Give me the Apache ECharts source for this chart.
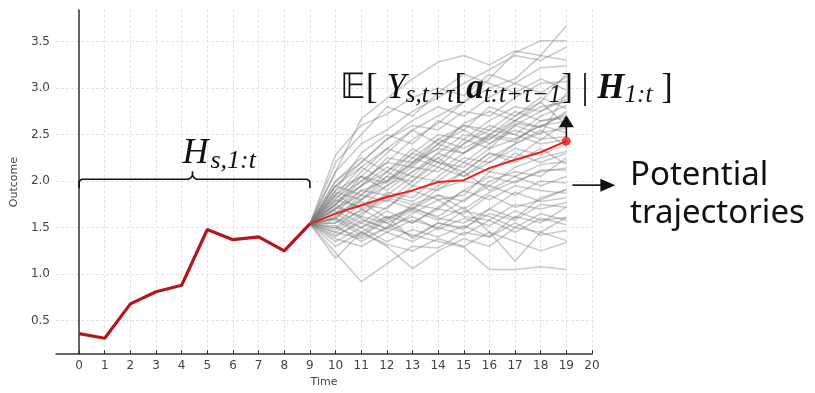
<!DOCTYPE html>
<html>
<head>
<meta charset="utf-8">
<script src="https://cdn.jsdelivr.net/npm/echarts@6/dist/echarts.min.js"></script>
<style>
  html, body { margin: 0; background: #fff; }
  #chart { width: 815px; height: 393px; }
</style>
</head>
<body>
<div id="chart"></div>
<script>
const xTicks = [0, 1, 2, 3, 4, 5, 6, 7, 8, 9, 10, 11, 12, 13, 14, 15, 16, 17, 18, 19, 20];
const yTicks = [0.5, 1.0, 1.5, 2.0, 2.5, 3.0, 3.5];

const historyTime = [0, 1, 2, 3, 4, 5, 6, 7, 8, 9];
const historyOutcome = [0.36, 0.31, 0.68, 0.81, 0.88, 1.48, 1.37, 1.40, 1.25, 1.54];

const forecastTime = [9, 10, 11, 12, 13, 14, 15, 16, 17, 18, 19];
const meanOutcome = [1.54, 1.65, 1.74, 1.83, 1.90, 1.99, 2.01, 2.14, 2.23, 2.31, 2.43];

// sampled potential trajectories, t = 9..19
const trajectories = [
  [1.54, 1.45, 1.38, 1.50, 1.42, 1.35, 1.29, 1.05, 1.05, 1.08, 1.05],
  [1.54, 1.23, 0.92, 1.11, 1.30, 1.28, 1.45, 1.40, 1.62, 1.55, 1.72],
  [1.54, 1.17, 1.45, 1.62, 1.38, 1.55, 1.48, 1.70, 1.60, 1.82, 1.91],
  [1.54, 1.60, 1.45, 1.30, 1.06, 1.25, 1.38, 1.30, 1.50, 1.45, 1.36],
  [1.54, 1.50, 1.70, 1.55, 1.68, 1.58, 1.72, 1.45, 1.14, 1.45, 1.61],
  [1.54, 1.85, 2.05, 2.30, 2.55, 2.70, 2.85, 3.00, 3.10, 3.35, 3.67],
  [1.54, 1.75, 2.00, 2.20, 2.45, 2.62, 2.85, 3.10, 3.38, 3.51, 3.51],
  [1.54, 2.10, 2.40, 2.55, 2.75, 2.90, 3.05, 3.20, 3.35, 3.30, 3.44],
  [1.54, 2.28, 2.60, 2.72, 2.90, 3.00, 2.92, 3.15, 3.05, 3.22, 3.24],
  [1.54, 1.95, 2.20, 2.45, 2.60, 2.55, 2.75, 2.70, 2.90, 3.05, 3.07],
  [1.54, 1.70, 1.95, 2.10, 2.30, 2.50, 2.45, 2.65, 2.80, 2.75, 2.92],
  [1.54, 1.65, 1.80, 2.05, 2.00, 2.25, 2.40, 2.55, 2.50, 2.70, 2.81],
  [1.54, 1.80, 1.72, 1.95, 2.15, 2.10, 2.30, 2.45, 2.62, 2.58, 2.73],
  [1.54, 1.60, 1.85, 1.78, 2.00, 2.20, 2.15, 2.35, 2.45, 2.60, 2.64],
  [1.54, 1.72, 1.62, 1.88, 1.82, 2.05, 2.25, 2.20, 2.40, 2.52, 2.57],
  [1.54, 1.55, 1.75, 1.70, 1.95, 1.90, 2.10, 2.30, 2.25, 2.45, 2.48],
  [1.54, 1.90, 2.05, 1.90, 2.10, 2.25, 2.05, 2.20, 2.35, 2.28, 2.40],
  [1.54, 1.48, 1.65, 1.80, 1.70, 1.92, 2.00, 1.95, 2.15, 2.25, 2.32],
  [1.54, 1.68, 1.55, 1.72, 1.90, 1.80, 1.85, 2.10, 2.05, 2.18, 2.21],
  [1.54, 1.40, 1.58, 1.50, 1.75, 1.85, 1.70, 1.88, 2.00, 2.10, 2.14],
  [1.54, 1.85, 1.70, 1.85, 1.78, 1.95, 2.10, 1.90, 2.05, 1.95, 2.05],
  [1.54, 1.62, 1.78, 1.60, 1.70, 1.62, 1.80, 1.95, 1.85, 2.00, 1.98],
  [1.54, 1.35, 1.50, 1.68, 1.55, 1.70, 1.65, 1.85, 1.72, 1.80, 1.91],
  [1.54, 1.58, 1.42, 1.60, 1.72, 1.60, 1.55, 1.70, 1.88, 1.78, 1.82],
  [1.54, 1.75, 1.60, 1.48, 1.65, 1.80, 1.62, 1.58, 1.75, 1.70, 1.77],
  [1.54, 1.45, 1.62, 1.55, 1.40, 1.55, 1.50, 1.65, 1.58, 1.75, 1.72],
  [1.54, 1.52, 1.35, 1.50, 1.62, 1.48, 1.60, 1.52, 1.68, 1.58, 1.61],
  [1.54, 1.38, 1.30, 1.45, 1.35, 1.50, 1.42, 1.58, 1.45, 1.60, 1.53],
  [1.54, 1.65, 1.50, 1.35, 1.48, 1.40, 1.52, 1.40, 1.55, 1.42, 1.47],
  [1.54, 1.30, 1.45, 1.32, 1.25, 1.38, 1.30, 1.45, 1.35, 1.25, 1.34],
  [1.54, 2.00, 2.25, 2.10, 2.35, 2.20, 2.45, 2.35, 2.60, 2.50, 2.95],
  [1.54, 1.82, 2.00, 2.20, 2.15, 2.40, 2.30, 2.50, 2.65, 2.80, 2.85],
  [1.54, 1.70, 1.90, 1.85, 2.05, 2.00, 2.20, 2.10, 2.30, 2.20, 2.30],
  [1.54, 1.55, 1.68, 1.82, 1.75, 1.70, 1.90, 2.05, 1.98, 2.12, 2.12],
  [1.54, 1.78, 1.95, 2.15, 2.05, 2.30, 2.20, 2.40, 2.55, 2.45, 2.62],
  [1.54, 1.60, 1.50, 1.62, 1.55, 1.72, 1.90, 1.80, 1.95, 1.90, 1.87],
  [1.54, 1.42, 1.55, 1.45, 1.58, 1.50, 1.68, 1.62, 1.50, 1.65, 1.58],
  [1.54, 1.95, 2.15, 2.35, 2.25, 2.45, 2.60, 2.50, 2.70, 2.85, 3.15],
  [1.54, 1.88, 1.80, 2.00, 2.20, 2.35, 2.30, 2.48, 2.42, 2.65, 2.68],
  [1.54, 1.50, 1.40, 1.58, 1.70, 1.85, 1.78, 2.00, 2.10, 2.05, 2.25],
  [1.54, 2.10, 2.67, 2.89, 3.10, 3.28, 3.35, 3.25, 3.40, 3.35, 3.30],
  [1.54, 2.20, 2.50, 2.80, 2.70, 2.95, 3.15, 3.05, 2.95, 3.10, 2.98],
  [1.54, 1.90, 2.30, 2.50, 2.40, 2.65, 2.55, 2.80, 2.70, 2.90, 2.78],
  [1.54, 1.80, 2.10, 2.35, 2.55, 2.40, 2.60, 2.55, 2.75, 2.65, 2.70],
  [1.54, 1.75, 1.95, 2.25, 2.20, 2.45, 2.35, 2.50, 2.45, 2.60, 2.52],
  [1.54, 1.65, 1.90, 2.00, 2.25, 2.15, 2.40, 2.60, 2.50, 2.40, 2.45],
  [1.54, 1.85, 2.15, 2.00, 2.20, 2.40, 2.55, 2.40, 2.60, 2.75, 2.88],
  [1.54, 1.70, 1.85, 2.10, 1.95, 2.15, 2.05, 2.25, 2.40, 2.55, 2.38],
  [1.54, 1.95, 1.85, 2.05, 2.30, 2.20, 2.10, 2.30, 2.20, 2.35, 2.18],
  [1.54, 1.60, 1.80, 1.95, 2.10, 2.30, 2.50, 2.45, 2.65, 2.58, 2.75],
  [1.54, 2.00, 2.20, 2.45, 2.65, 2.80, 2.70, 2.90, 3.05, 2.95, 3.12],
  [1.54, 1.75, 2.05, 1.98, 2.18, 2.35, 2.62, 2.75, 2.65, 2.85, 2.60]
];

const chart = echarts.init(document.getElementById('chart'));

const zip = (xs, ys) => xs.map((x, i) => [x, ys[i]]);

const trajectorySeries = trajectories.map((values) => ({
  type: 'line',
  data: zip(forecastTime, values),
  showSymbol: false,
  silent: true,
  z: 1,
  lineStyle: { color: 'rgba(120,120,120,0.4)', width: 1.5 },
}));

const tickFont = { fontFamily: 'DejaVu Sans', fontSize: 12, color: '#444' };

chart.setOption({
  animation: false,
  grid: { left: 56, right: 223, top: 10, bottom: 35 },
  xAxis: {
    type: 'value',
    min: -0.9,
    max: 20,
    name: 'Time',
    nameLocation: 'middle',
    nameGap: 21,
    nameTextStyle: { fontFamily: 'DejaVu Sans', fontSize: 11, color: '#444' },
    axisLine: { lineStyle: { color: '#333', width: 1.5 } },
    axisTick: { inside: true, length: 4, customValues: xTicks, lineStyle: { color: '#333' } },
    axisLabel: { customValues: xTicks, margin: 6, ...tickFont },
    splitLine: { show: true, lineStyle: { color: '#e2e2e2', type: [3, 2], width: 1 } },
  },
  yAxis: {
    type: 'value',
    min: 0.14,
    max: 3.84,
    name: 'Outcome',
    nameLocation: 'middle',
    nameGap: 31,
    nameTextStyle: { fontFamily: 'DejaVu Sans', fontSize: 11, color: '#444' },
    axisLine: { show: true, lineStyle: { color: '#333', width: 1.5 } },
    axisTick: { show: false, customValues: yTicks },
    axisLabel: { customValues: yTicks, margin: 6, formatter: (v) => v.toFixed(1), ...tickFont },
    splitLine: { show: true, lineStyle: { color: '#e2e2e2', type: [3, 2], width: 1 } },
  },
  series: [
    ...trajectorySeries,
    {
      type: 'line',
      data: zip(historyTime, historyOutcome),
      showSymbol: false,
      z: 3,
      lineStyle: { color: '#b3171c', width: 3.2 },
    },
    {
      type: 'line',
      data: zip(forecastTime, meanOutcome),
      showSymbol: false,
      z: 4,
      lineStyle: { color: '#e8211d', width: 2 },
    },
    {
      type: 'scatter',
      data: [[forecastTime[forecastTime.length - 1], meanOutcome[meanOutcome.length - 1]]],
      symbolSize: 9,
      z: 5,
      itemStyle: { color: '#f5141a' },
    },
  ],
});

// annotations anchored to the data
const px = (x, y) => chart.convertToPixel({ gridIndex: 0 }, [x, y]);
const [bx0, by] = px(historyTime[0], 2.02);
const [bx1] = px(historyTime[historyTime.length - 1], 2.02);
const bxm = (bx0 + bx1) / 2 - 2;
const [ex, ey] = px(forecastTime[forecastTime.length - 1], meanOutcome[meanOutcome.length - 1]);

// curly brace as a polyline with small rounded corners
const bracePoints = [
  [bx0, by + 9], [bx0, by + 3], [bx0 + 1, by + 1], [bx0 + 3, by],
  [bxm - 4, by], [bxm - 1.5, by - 1.5], [bxm, by - 4], [bxm, by - 8],
  [bxm, by - 4], [bxm + 1.5, by - 1.5], [bxm + 4, by],
  [bx1 - 3, by], [bx1 - 1, by + 1], [bx1, by + 3], [bx1, by + 9],
];

const serif = 'Liberation Serif';
chart.setOption({
  graphic: [
    {
      type: 'polyline',
      shape: { points: bracePoints },
      style: { fill: null, stroke: '#111', lineWidth: 1.6 },
      z: 10,
    },
    {
      type: 'text',
      x: bxm - 10,
      y: by - 5,
      style: {
        text: '{v|H}{s|s,1:t}',
        textVerticalAlign: 'bottom',
        rich: {
          v: { fontFamily: serif, fontStyle: 'italic', fontSize: 36, fill: '#111' },
          s: { fontFamily: serif, fontStyle: 'italic', fontSize: 26, fill: '#111', padding: [16, 0, 0, 2] },
        },
      },
      z: 10,
    },
    {
      type: 'text',
      x: 340,
      y: 108,
      style: {
        text: '{n|𝔼[ }{v|Y}{s|s,t+τ}{n|[}{b|a}{s|t:t+τ−1}{n|] | }{b|H}{s|1:t}{n| ]}',
        textVerticalAlign: 'bottom',
        rich: {
          n: { fontFamily: serif, fontSize: 35, fill: '#111' },
          v: { fontFamily: serif, fontStyle: 'italic', fontSize: 35, fill: '#111' },
          b: { fontFamily: serif, fontStyle: 'italic', fontWeight: 'bold', fontSize: 35, fill: '#111' },
          s: { fontFamily: serif, fontStyle: 'italic', fontSize: 25, fill: '#111', padding: [14, 0, 0, 0] },
        },
      },
      z: 10,
    },
    {
      type: 'line',
      shape: { x1: ex, y1: ey - 4, x2: ex, y2: ey - 15 },
      style: { stroke: '#111', lineWidth: 1.6 },
      z: 10,
    },
    {
      type: 'polygon',
      shape: { points: [[ex - 7.5, ey - 14], [ex + 7.5, ey - 14], [ex, ey - 26]] },
      style: { fill: '#111' },
      z: 10,
    },
    {
      type: 'line',
      shape: { x1: ex + 6, y1: ey + 44, x2: ex + 36, y2: ey + 44 },
      style: { stroke: '#111', lineWidth: 1.6 },
      z: 10,
    },
    {
      type: 'polygon',
      shape: { points: [[ex + 34, ey + 37.5], [ex + 34, ey + 50.5], [ex + 49, ey + 44]] },
      style: { fill: '#111' },
      z: 10,
    },
    {
      type: 'text',
      x: 630,
      y: 157,
      style: {
        text: 'Potential\ntrajectories',
        fontFamily: 'Noto Sans',
        fontSize: 33,
        lineHeight: 38,
        fill: '#111',
      },
      z: 10,
    },
  ],
});
</script>
</body>
</html>
